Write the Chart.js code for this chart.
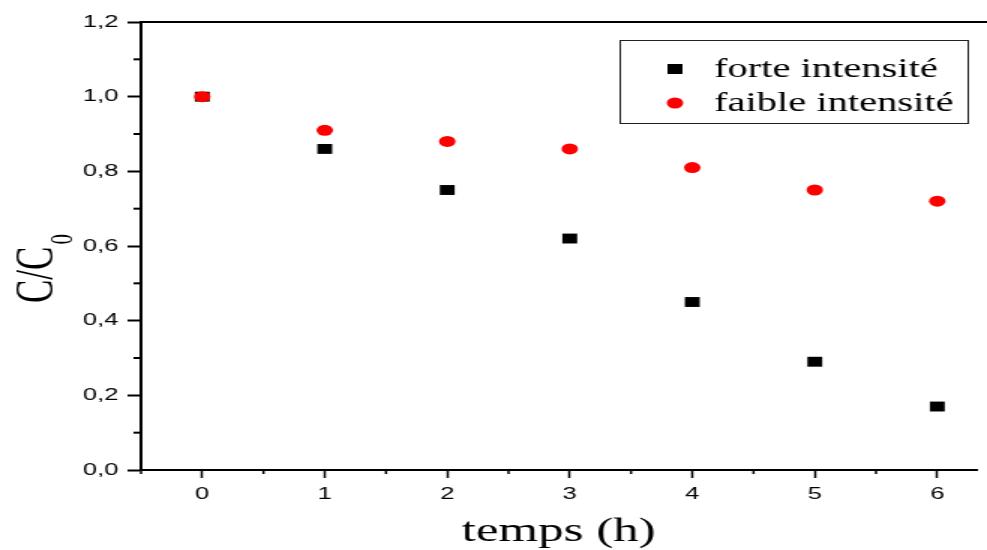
<!DOCTYPE html>
<html>
<head>
<meta charset="utf-8">
<script src="https://cdn.jsdelivr.net/npm/chart.js@4/dist/chart.umd.min.js"></script>
<style>
  html, body { margin: 0; padding: 0; background: #fff; overflow: hidden; }
  /* the reference is stretched sideways, so draw narrow and widen it */
  #wrap { width: 658px; height: 550px; transform: scale(1.5, 1); transform-origin: 0 0; }
  canvas { display: block; }
</style>
</head>
<body>
<div id="wrap"><canvas id="chart" width="658" height="550"></canvas></div>
<script>
  // data
  const hours = [0, 1, 2, 3, 4, 5, 6];
  const forte = [1.0, 0.86, 0.75, 0.62, 0.45, 0.29, 0.17];
  const faible = [1.0, 0.91, 0.88, 0.86, 0.81, 0.75, 0.72];
  const xTicks = [0, 1, 2, 3, 4, 5, 6];
  const xMinor = [-0.5, 0.5, 1.5, 2.5, 3.5, 4.5, 5.5];
  const yTicks = [0, 0.2, 0.4, 0.6, 0.8, 1.0, 1.2];
  const yMinor = [0.1, 0.3, 0.5, 0.7, 0.9, 1.1];
  const labels = ['forte intensité', 'faible intensité'];

  const SERIF = '"Liberation Serif", "Times New Roman", serif';
  const SANS = '"Liberation Sans", Arial, sans-serif';

  Chart.defaults.font.family = SANS;
  Chart.defaults.color = '#000';

  function pts(ys) {
    return hours.map((h, i) => ({ x: h, y: ys[i] }));
  }

  // minor ticks, top frame line, y title with subscript, legend box
  const extras = {
    id: 'extras',
    afterDraw(chart) {
      const ctx = chart.ctx;
      const area = chart.chartArea;
      const xs = chart.scales.x;
      const ys = chart.scales.y;
      ctx.save();
      ctx.strokeStyle = '#000';

      ctx.lineWidth = 2;
      ctx.beginPath();
      ctx.moveTo(area.left, area.top);
      ctx.lineTo(chart.width, area.top);
      ctx.stroke();

      ctx.lineWidth = 2;
      for (const v of yMinor) {
        const y = ys.getPixelForValue(v);
        ctx.beginPath();
        ctx.moveTo(area.left - 5, y);
        ctx.lineTo(area.left, y);
        ctx.stroke();
      }
      ctx.lineWidth = 1.5;
      for (const v of xMinor) {
        const x = xs.getPixelForValue(v);
        ctx.beginPath();
        ctx.moveTo(x, area.bottom);
        ctx.lineTo(x, area.bottom + 4);
        ctx.stroke();
      }

      // y title C/C0
      ctx.fillStyle = '#000';
      ctx.save();
      ctx.translate(35, 303);
      ctx.rotate(-Math.PI / 2);
      ctx.textBaseline = 'alphabetic';
      ctx.textAlign = 'left';
      ctx.font = '35px ' + SERIF;
      ctx.fillText('C/C', 0, 0);
      const w = ctx.measureText('C/C').width;
      ctx.font = '21px ' + SERIF;
      ctx.fillText('0', w + 2, 13);
      ctx.restore();

      // legend
      ctx.lineWidth = 1;
      ctx.strokeStyle = '#222';
      ctx.strokeRect(413.5, 40.5, 232, 83);
      ctx.font = '27px ' + SERIF;
      ctx.textBaseline = 'alphabetic';
      ctx.textAlign = 'left';
      ctx.fillStyle = '#000';
      ctx.fillRect(445, 64, 10, 10);
      ctx.fillText(labels[0], 476, 77);
      ctx.fillStyle = '#ff0000';
      ctx.beginPath();
      ctx.arc(450, 103, 5.5, 0, Math.PI * 2);
      ctx.fill();
      ctx.fillStyle = '#000';
      ctx.fillText(labels[1], 476, 111);
      ctx.restore();
    }
  };

  new Chart(document.getElementById('chart'), {
    type: 'scatter',
    data: {
      datasets: [
        {
          label: labels[0],
          data: pts(forte),
          pointStyle: 'rect',
          pointRadius: 7,
          pointHoverRadius: 7,
          backgroundColor: '#000',
          borderColor: '#000',
          borderWidth: 0,
          order: 1
        },
        {
          label: labels[1],
          data: pts(faible),
          pointStyle: 'circle',
          pointRadius: 5.5,
          pointHoverRadius: 5.5,
          backgroundColor: '#ff0000',
          borderColor: '#ff0000',
          borderWidth: 0,
          order: 0
        }
      ]
    },
    options: {
      responsive: false,
      animation: false,
      devicePixelRatio: 1,
      layout: { padding: { top: 22, right: 0, left: 0, bottom: 0 } },
      plugins: { legend: { display: false }, tooltip: { enabled: false } },
      scales: {
        x: {
          type: 'linear',
          min: -0.5,
          max: 6.32,
          afterBuildTicks: (s) => { s.ticks = xTicks.map(v => ({ value: v })); },
          afterFit: (s) => { s.height = 80; s.paddingLeft = 0; s.paddingRight = 0; },
          grid: { display: true, drawOnChartArea: false, drawTicks: true, tickLength: 8, tickWidth: 1.5, tickColor: '#000' },
          border: { display: true, color: '#000', width: 2 },
          ticks: { font: { size: 17 }, padding: 6, maxRotation: 0, callback: (v) => String(v) },
          title: { display: true, text: 'temps (h)', font: { family: SERIF, size: 34, lineHeight: 1 }, padding: { top: 0, bottom: 1 } }
        },
        y: {
          type: 'linear',
          min: 0,
          max: 1.2,
          afterBuildTicks: (s) => { s.ticks = yTicks.map(v => ({ value: v })); },
          afterFit: (s) => { s.width = 94; },
          grid: { display: true, drawOnChartArea: false, drawTicks: true, tickLength: 9, tickWidth: 2, tickColor: '#000' },
          border: { display: true, color: '#000', width: 2 },
          ticks: { font: { size: 17 }, padding: 6, callback: (v) => v.toFixed(1).replace('.', ',') }
        }
      }
    },
    plugins: [extras]
  });
</script>
</body>
</html>
